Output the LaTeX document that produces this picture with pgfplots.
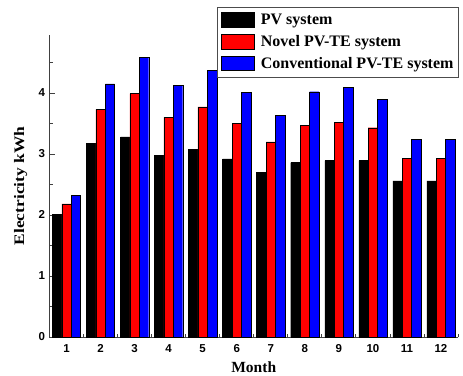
\documentclass[border=0pt]{standalone}
\usepackage{fontspec}
\setmainfont{Liberation Serif}
\newfontfamily\arialfont{Liberation Sans}
\usepackage{pgfplots}
\pgfplotsset{compat=1.18}
\begin{document}
\begin{tikzpicture}
\begin{axis}[
  scale only axis,
  width=408.5pt, height=302pt,
  xmin=0.5, xmax=12.5, ymin=0, ymax=4.95,
  axis x line=bottom, axis y line=left,
  axis line style={-, draw=black!75, line width=0.9pt},
  ybar=0pt, bar width=9.4pt,
  xtick={1,...,12}, minor xtick={0.5,1.5,...,12.5},
  ytick={0,1,2,3,4}, minor ytick={0.5,1.5,2.5,3.5,4.5},
  tick align=inside,
  major tick length=5pt, minor tick length=3pt,
  tick style={draw=black!75, line width=0.8pt},
  /pgf/number format/assume math mode=true,
  tick label style={font=\arialfont\bfseries\fontsize{11.5}{12}\selectfont},
  xticklabel style={yshift=-4pt},
  yticklabel style={xshift=-1pt},
  xlabel={Month}, ylabel={\scalebox{1.2}[1]{Electricity kWh}},
  xlabel style={font=\bfseries\fontsize{15.5}{17}\selectfont, at={(axis description cs:0.5,-0.1159)}, anchor=base},
  ylabel style={font=\bfseries\fontsize{14.5}{16}\selectfont, at={(axis description cs:-0.062,0.5)}, anchor=base},
  legend style={at={(rel axis cs:0.4108,1.0927)}, anchor=north west,
    draw=black!70, line width=0.9pt, fill=white,
    font=\bfseries\fontsize{16}{18}\selectfont,
    nodes={inner xsep=2.4pt, inner ysep=2.85pt, text height=12pt, text depth=4pt},
    row sep=0pt, inner xsep=3pt, inner ysep=2.5pt},
  legend cell align=left,
  legend image code/.code={\draw[#1, line width=0.5pt] (0pt,-6.3pt) rectangle (33pt,8.4pt); \path[draw=none, fill=none] (0pt,0pt) -- (37.5pt,0pt);},
]
\addplot[fill=black, draw=black, line width=0.4pt] coordinates {
(1,2.01) (2,3.17) (3,3.28) (4,2.98) (5,3.07) (6,2.92) (7,2.70) (8,2.86) (9,2.89) (10,2.89) (11,2.56) (12,2.56)};
\addplot[fill=red, draw=black, line width=0.4pt] coordinates {
(1,2.18) (2,3.73) (3,3.99) (4,3.60) (5,3.77) (6,3.50) (7,3.20) (8,3.47) (9,3.52) (10,3.43) (11,2.93) (12,2.93)};
\addplot[fill=blue, draw=black, line width=0.4pt] coordinates {
(1,2.32) (2,4.15) (3,4.58) (4,4.13) (5,4.37) (6,4.01) (7,3.63) (8,4.02) (9,4.09) (10,3.90) (11,3.24) (12,3.24)};
\legend{PV system, Novel PV-TE system, Conventional PV-TE system\hspace{16pt}}
\coordinate (O) at (rel axis cs:0,0);
\end{axis}
\pgfresetboundingbox
\path[use as bounding box] ([shift={(-49.5pt,-38pt)}]O) rectangle ++(463pt,375pt);
\end{tikzpicture}
\end{document}
